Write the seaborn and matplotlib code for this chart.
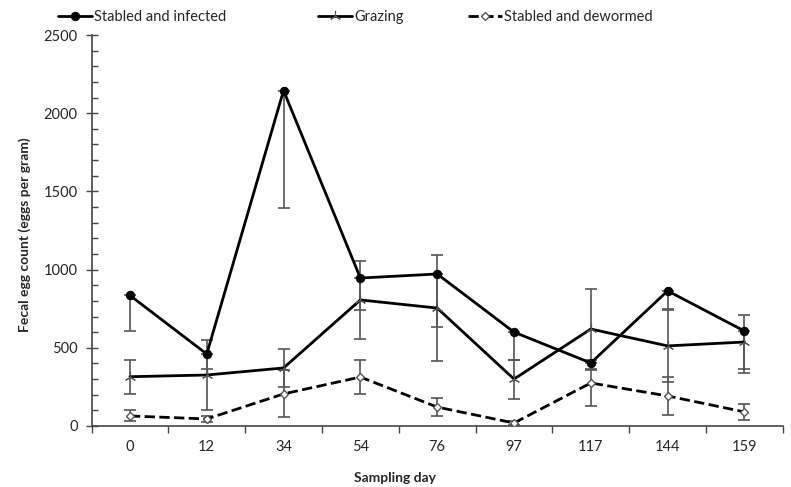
import numpy as np
import pandas as pd
import matplotlib
matplotlib.use('Agg')
import matplotlib.pyplot as plt
from matplotlib.ticker import MultipleLocator
import seaborn as sns

# Данные
days = ['0', '12', '34', '54', '76', '97', '117', '144', '159']
infected = [835, 460, 2145, 946, 972, 600, 403, 864, 607]
infected_err_low = [230, 95, 750, 204, 339, 178, 45, 116, 270]
grazing = [315, 326, 371, 806, 754, 300, 620, 512, 537]
grazing_err = [110, 225, 120, 250, 340, 125, 256, 230, 173]
dewormed = [64, 45, 205, 313, 121, 19, 275, 192, 90]
dewormed_err = [35, 20, 150, 108, 55, 10, 147, 120, 50]

sns.set_theme(style='white')
plt.rcParams['font.family'] = ['Lato', 'DejaVu Sans']

W, H = 791, 487
fig = plt.figure(figsize=(W / 100, H / 100), dpi=100)
ax = fig.add_axes([0.1157, 0.1253, 0.874, 0.8028])

pos = np.arange(len(days))
df = pd.DataFrame({'pos': pos, 'infected': infected, 'grazing': grazing, 'dewormed': dewormed})

# Полосы ошибок
err_kw = dict(fmt='none', ecolor='#555555', elinewidth=1.2, capsize=4, capthick=1.2, zorder=1)
ax.errorbar(pos, infected, yerr=[infected_err_low, [0] * len(days)], **err_kw)
ax.errorbar(pos, grazing, yerr=grazing_err, **err_kw)
ax.errorbar(pos, dewormed, yerr=dewormed_err, **err_kw)

sns.lineplot(data=df, x='pos', y='infected', ax=ax, color='black', lw=2,
             marker='o', markersize=6, markeredgecolor='black', label='Stabled and infected', zorder=3)
sns.lineplot(data=df, x='pos', y='grazing', ax=ax, color='black', lw=2,
             marker=(3, 2, 0), markersize=8, markeredgewidth=0.8, markeredgecolor='#555555',
             label='Grazing', zorder=3)
sns.lineplot(data=df, x='pos', y='dewormed', ax=ax, color='black', lw=2, linestyle='--',
             marker='D', markersize=4, markerfacecolor='white', markeredgecolor='#555555',
             markeredgewidth=1, label='Stabled and dewormed', zorder=3)

ax.set_xlim(-0.5, len(days) - 0.5)
ax.set_ylim(0, 2500)
ax.set_xticks(pos)
ax.set_xticklabels(days)
ax.set_xticks(np.arange(-0.5, len(days), 1), minor=True)
ax.tick_params(axis='x', which='major', length=0, labelsize=10.5, pad=10)
ax.tick_params(axis='x', which='minor', direction='out', length=5, width=1, color='#444444', bottom=True)
ax.yaxis.set_major_locator(MultipleLocator(500))
ax.yaxis.set_minor_locator(MultipleLocator(100))
ax.tick_params(axis='y', which='major', direction='inout', length=8, width=1, color='#444444',
               labelsize=10.5, left=True, pad=6)
ax.tick_params(axis='y', which='minor', direction='in', length=4, width=1, color='#444444', left=True)

for s in ['top', 'right']:
    ax.spines[s].set_visible(False)
for s in ['left', 'bottom']:
    ax.spines[s].set_color('#444444')
    ax.spines[s].set_linewidth(1.2)

ax.set_xlabel('Sampling day', fontsize=10, fontweight='bold')
ax.xaxis.set_label_coords(0.439, -0.118)
ax.set_ylabel('Fecal egg count (eggs per gram)', fontsize=10, fontweight='bold')
ax.yaxis.set_label_coords(-0.088, 0.49)

ax.get_legend().remove()
handles, labels = ax.get_legend_handles_labels()
# три отдельные легенды, чтобы повторить неравные промежутки
for h, l, x0 in zip(handles, labels, [58, 318, 468]):
    fig.legend([h], [l], loc='upper left', bbox_to_anchor=(x0 / W, 1 - 10 / H), frameon=False,
               fontsize=10.5, handlelength=2.3, handletextpad=0.2, borderpad=0, borderaxespad=0)

fig.savefig('out.png', dpi=100)
